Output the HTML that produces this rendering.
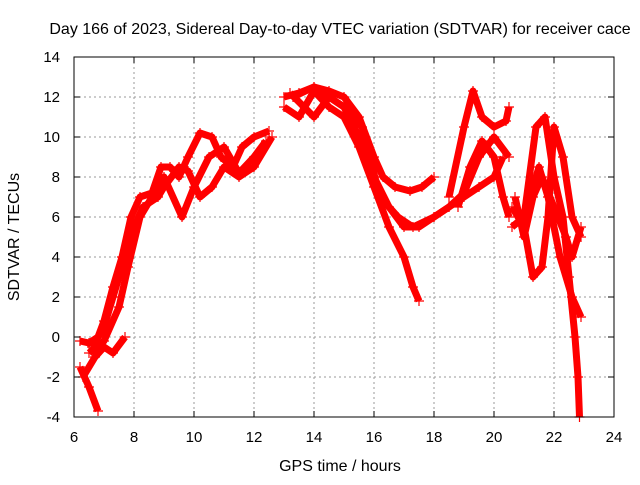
<!DOCTYPE html>
<html><head><meta charset="utf-8"><style>
body{margin:0;background:#fff;}
svg text{font-family:"Liberation Sans",sans-serif;fill:#000;}
</style></head><body>
<svg id="chart" width="640" height="480">
<g id="grid"></g>
<g id="series"></g>
<rect x="74" y="57" width="540" height="360" fill="none" stroke="#000" stroke-width="1"/>
<g id="ticks"></g>
<text x="340" y="34" font-size="16" text-anchor="middle">Day 166 of 2023, Sidereal Day-to-day VTEC variation (SDTVAR) for receiver cace</text>
<text x="340" y="471" font-size="16" text-anchor="middle">GPS time / hours</text>
<text transform="translate(19,237) rotate(-90)" font-size="16" text-anchor="middle">SDTVAR / TECUs</text>
</svg>
<script>
const xTicks=[6,8,10,12,14,16,18,20,22,24];
const yTicks=[-4,-2,0,2,4,6,8,10,12,14];
const trackA=[[6.2,-0.2],[6.5,-0.3],[6.8,0],[7.0,0.8],[7.3,2.5],[7.6,4],[7.9,6],[8.2,7],[8.6,7.2],[8.9,8.5],[9.2,8.5],[9.5,8],[9.8,9],[10.2,10.2],[10.6,10],[10.9,9],[11.3,8.5],[11.6,9.5],[12,10],[12.5,10.3]];
const trackB=[[6.2,-1.5],[6.5,-2.5],[6.8,-3.7]];
const trackB2=[[6.3,-2],[6.7,-1],[7,-0.5],[7.3,-0.8],[7.7,0]];
const trackC=[[6.6,-0.5],[7.0,0.5],[7.3,2],[7.6,3.5],[8.0,5.5],[8.3,6.5],[8.8,7],[9.0,7.5],[9.5,8.5],[9.8,8.3],[10.2,7],[10.6,7.5],[11,8.5],[11.5,8],[12,8.5],[12.6,10]];
const trackD=[[6.5,-0.8],[7,-0.2],[7.5,1.5],[7.8,3.5],[8.2,6],[8.6,7],[9,8],[9.6,6],[10,7.5],[10.5,9],[11,9.5],[11.5,8.2],[12,9],[12.4,9.8]];
const trackE=[[13,12],[13.5,12.2],[14,12.5],[14.5,12],[15,11.5],[15.5,10],[16,8],[16.5,6.5],[17,5.5],[17.5,5.5],[18,6],[18.5,6.5],[19,7],[19.5,7.5],[20,8],[20.3,9]];
const trackF=[[13,11.5],[13.5,11],[14,12.3],[14.5,11.5],[15,11],[15.5,9.5],[16,7.5],[16.5,5.5],[17,4],[17.3,2.5],[17.5,1.8]];
const trackG=[[13.3,12],[14,12.5],[14.5,12.3],[15,12],[15.5,11],[16,9],[16.3,8],[16.7,7.5],[17.2,7.3],[17.6,7.5],[18,8]];
const trackH=[[13.2,12.2],[14,11],[14.5,12],[15,11.5],[15.6,10.5],[16.2,7],[16.8,6],[17.3,5.5],[18,6],[18.5,6.5],[19,7.2],[19.5,9],[20,10],[20.5,9]];
const trackI=[[18.5,7],[19,10.5],[19.3,12.3],[19.6,11],[20,10.5],[20.4,10.8],[20.5,11.5]];
const trackJ=[[18.8,6.5],[19.2,8.5],[19.6,9.8],[20,9],[20.3,7],[20.5,6]];
const trackK=[[20.6,6.5],[21,5.5],[21.3,3],[21.6,3.5],[21.8,6],[22,10.5],[22.3,9],[22.6,6],[22.9,5]];
const trackL=[[20.6,5.5],[21,6],[21.4,10.5],[21.7,11],[22,8],[22.3,6],[22.5,3],[22.7,0],[22.8,-2],[22.85,-4]];
const trackM=[[20.7,7],[21,5],[21.3,7],[21.6,8],[22,6.5],[22.4,5],[22.6,4],[22.9,5.5]];
const trackN=[[21,6],[21.5,8.5],[21.8,7],[22.2,4],[22.6,2],[22.9,1]];
const tracks=[trackA,trackB,trackB2,trackC,trackD,trackE,trackF,trackG,trackH,trackI,trackJ,trackK,trackL,trackM,trackN];

const NS="http://www.w3.org/2000/svg";
const X0=74,X1=614,Y0=417,Y1=57;
function sx(v){return X0+(v-6)/(24-6)*(X1-X0);}
function sy(v){return Y0-(v+4)/(14+4)*(Y0-Y1);}
const grid=document.getElementById('grid'),ticks=document.getElementById('ticks'),ser=document.getElementById('series');
function mk(tag,attrs,parent){const e=document.createElementNS(NS,tag);for(const k in attrs)e.setAttribute(k,attrs[k]);parent.appendChild(e);return e;}
xTicks.forEach(t=>{
  const x=sx(t);
  if(t>6&&t<24){const g=mk('line',{x1:x,x2:x,y1:Y1,y2:Y0,stroke:'#999','stroke-dasharray':'2,3'},grid);
  
  }
  const a=mk('line',{x1:x,x2:x,y1:Y0,y2:Y0-6,stroke:'#000'},ticks);
  
  
  const b=mk('line',{x1:x,x2:x,y1:Y1,y2:Y1+6,stroke:'#000'},ticks);
  
  
  const l=mk('text',{x:x,y:Y0+25,'font-size':15,'text-anchor':'middle'},ticks);l.textContent=t;
  
  
});
yTicks.forEach(t=>{
  const y=sy(t);
  if(t>-4&&t<14){const g=mk('line',{x1:X0,x2:X1,y1:y,y2:y,stroke:'#999','stroke-dasharray':'2,3'},grid);
  
  }
  const a=mk('line',{x1:X0,x2:X0+6,y1:y,y2:y,stroke:'#000'},ticks);
  
  
  const b=mk('line',{x1:X1,x2:X1-6,y1:y,y2:y,stroke:'#000'},ticks);
  
  
  const l=mk('text',{x:X0-14,y:y+5,'font-size':15,'text-anchor':'end'},ticks);l.textContent=t;
  
  
});
tracks.forEach(tr=>{
  const p=mk('polyline',{points:tr.map(d=>sx(d[0])+','+sy(d[1])).join(' '),fill:'none',stroke:'#f00','stroke-width':7,'stroke-linejoin':'round'},ser);
  
  
  tr.forEach(d=>{
    const m=mk('path',{d:`M${sx(d[0])-5},${sy(d[1])}h10M${sx(d[0])},${sy(d[1])-5}v10`,stroke:'#f00','stroke-width':1.2},ser);
    
    
  });
});
</script>
</body></html>
